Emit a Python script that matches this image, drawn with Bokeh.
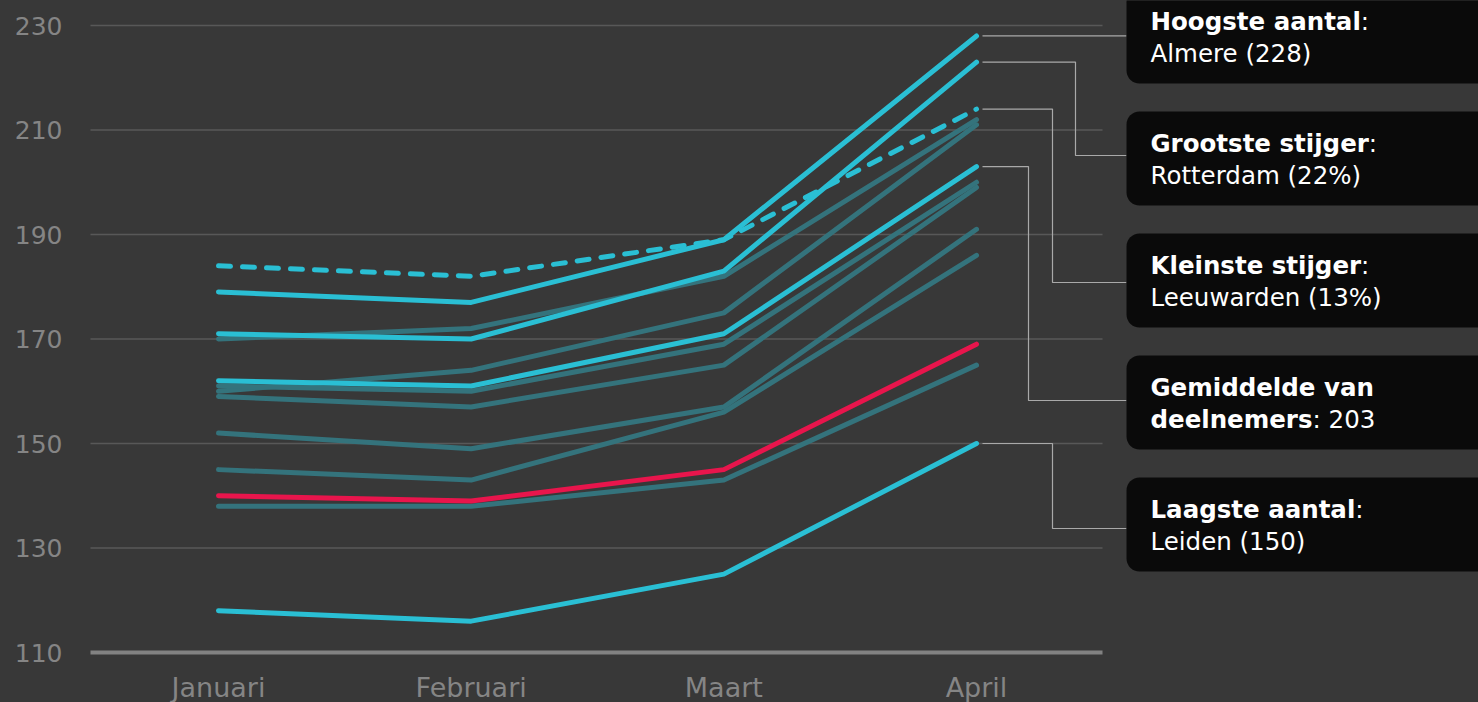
from bokeh.plotting import figure
from bokeh.models import Range1d, FixedTicker, LinearAxis
from bokeh.core.properties import value
from bokeh.embed import file_html
from bokeh.resources import INLINE

# ---------------- data ----------------
months = ["Januari", "Februari", "Maart", "April"]
y_ticks = [110, 130, 150, 170, 190, 210, 230]

almere = [179, 177, 189, 228]
rotterdam = [171, 170, 183, 223]
leeuwarden = [184, 182, 189, 214]
gemiddelde = [162, 161, 171, 203]
leiden = [118, 116, 125, 150]
eigen = [140, 139, 145, 169]

overig_1 = [170, 172, 182, 212]
overig_2 = [160, 164, 175, 211]
overig_3 = [161, 160, 169, 200]
overig_4 = [159, 157, 165, 199]
overig_5 = [152, 149, 157, 191]
overig_6 = [145, 143, 156, 186]
overig_7 = [138, 138, 143, 165]

ann_line1_bold = ["Hoogste aantal", "Grootste stijger", "Kleinste stijger", "Gemiddelde van", "Laagste aantal"]
ann_line1_rest = [":", ":", ":", "", ":"]
ann_line2_bold = ["", "", "", "deelnemers", ""]
ann_line2_rest = ["Almere (228)", "Rotterdam (22%)", "Leeuwarden (13%)", ": 203", "Leiden (150)"]
ann_targets = [almere, rotterdam, leeuwarden, gemiddelde, leiden]

# ---------------- layout helpers (page pixels -> data) ----------------
W, H = 1478, 702
CAT_PX = 252.67
def x_of(X):
    return (X - 218) / CAT_PX
def y_of(Y):
    return 230 - (Y - 25) / 5.225

BG = "#383838"
CYAN = "#2abfd4"
TEAL = "#34737c"
RED = "#e8154c"
GRID = "#585858"
LABEL = "#858585"

p = figure(width=W, height=H, output_backend="svg", toolbar_location=None,
           x_range=Range1d(x_of(0), x_of(W)), y_range=Range1d(y_of(H), y_of(0)),
           min_border=0, x_axis_location=None, y_axis_location=None)
p.background_fill_color = BG
p.border_fill_color = BG
p.outline_line_color = None
p.grid.visible = False

# gridlines restricted to plot area
grid_vals = [t for t in y_ticks if t != y_ticks[0]]
p.segment(x0=[x_of(90)] * len(grid_vals), x1=[x_of(1102)] * len(grid_vals),
          y0=grid_vals, y1=grid_vals, line_color=GRID, line_width=1.5)

# axes
yaxis = LinearAxis(fixed_location=x_of(90), ticker=FixedTicker(ticks=y_ticks),
                   axis_line_color=None, major_tick_line_color=None, minor_tick_line_color=None,
                   major_tick_out=0, major_label_standoff=28,
                   major_label_text_font="DejaVu Sans",
                   major_label_text_font_size="25px", major_label_text_color=LABEL)
p.add_layout(yaxis, "left")

xaxis = LinearAxis(fixed_location=y_ticks[0], ticker=FixedTicker(ticks=list(range(len(months)))),
                   major_label_overrides={i: m for i, m in enumerate(months)},
                   bounds=(x_of(90), x_of(1102)),
                   axis_line_color="#828282", axis_line_width=4,
                   major_tick_line_color=None, minor_tick_line_color=None,
                   major_tick_out=0, major_label_standoff=19,
                   major_label_text_font="DejaVu Sans",
                   major_label_text_font_size="27px", major_label_text_color=LABEL)
p.add_layout(xaxis, "below")

LW = 5
xs = list(range(len(months)))
for s in [overig_1, overig_2, overig_3, overig_4, overig_5, overig_6, overig_7]:
    p.line(xs, s, line_color=TEAL, line_width=LW, line_cap="round", line_join="round")
p.line(xs, eigen, line_color=RED, line_width=LW, line_cap="round", line_join="round")
for s in [almere, rotterdam, gemiddelde, leiden]:
    p.line(xs, s, line_color=CYAN, line_width=LW, line_cap="round", line_join="round")
p.line(xs, leeuwarden, line_color=CYAN, line_width=LW, line_cap="round", line_join="round",
       line_dash="12 12")

# connectors
box_tops = [-11, 111, 233, 355, 477]
box_h = 94
elbow_x = [None, 1075, 1052, 1028, 1052]
box_join_y = [None, 155, 282, 400, 528]
for tgt, ex, jy in zip(ann_targets, elbow_x, box_join_y):
    yv = tgt[-1]
    if ex is None:
        cx = [x_of(982), x_of(1126)]
        cy = [yv, yv]
    else:
        cx = [x_of(982), x_of(ex), x_of(ex), x_of(1126)]
        cy = [yv, yv, y_of(jy), y_of(jy)]
    p.line(cx, cy, line_color="#a9a9a9", line_width=1.2)

# boxes
p.quad(left=[x_of(1126)] * 5, right=[x_of(1530)] * 5,
       top=[y_of(t) for t in box_tops], bottom=[y_of(t + box_h) for t in box_tops],
       fill_color="#0a0a0a", line_color=None, border_radius=13)

# text widths for DejaVu Sans Bold (em units) to place the regular parts
BW = {" ": 0.348, "a": 0.675, "d": 0.716, "e": 0.678, "g": 0.716, "i": 0.343, "j": 0.343,
      "l": 0.343, "m": 1.042, "n": 0.712, "o": 0.687, "r": 0.493, "s": 0.595, "t": 0.478,
      "v": 0.652, "G": 0.821, "H": 0.837, "K": 0.775, "L": 0.637}
FS = 24.5
def bw(t):
    return sum(BW.get(c, 0.6) for c in t) * FS

TX = 1150
L1, L2 = 32, 64
l1x, l1y, l1t = [], [], []
l1rx, l1ry, l1rt = [], [], []
l2x, l2y, l2t = [], [], []
l2rx, l2ry, l2rt = [], [], []
for b1, r1, b2, r2, top in zip(ann_line1_bold, ann_line1_rest, ann_line2_bold, ann_line2_rest, box_tops):
    l1x.append(x_of(TX)); l1y.append(y_of(top + L1)); l1t.append(b1)
    l1rx.append(x_of(TX + bw(b1))); l1ry.append(y_of(top + L1)); l1rt.append(r1)
    l2x.append(x_of(TX)); l2y.append(y_of(top + L2)); l2t.append(b2)
    l2rx.append(x_of(TX + bw(b2))); l2ry.append(y_of(top + L2)); l2rt.append(r2)

common = dict(text_font=value("DejaVu Sans"), text_font_size=f"{FS}px", text_color="white",
              text_baseline="alphabetic", text_align="left")
p.text(l1x, l1y, text=l1t, text_font_style="bold", **common)
p.text(l1rx, l1ry, text=l1rt, **common)
p.text(l2x, l2y, text=l2t, text_font_style="bold", **common)
p.text(l2rx, l2ry, text=l2rt, **common)

html = file_html(p, INLINE, title="Deelnemers")
html = html.replace("</head>", "<style>html,body{background:#383838;overflow:hidden;}</style></head>", 1)
open("out.html", "w").write(html)
